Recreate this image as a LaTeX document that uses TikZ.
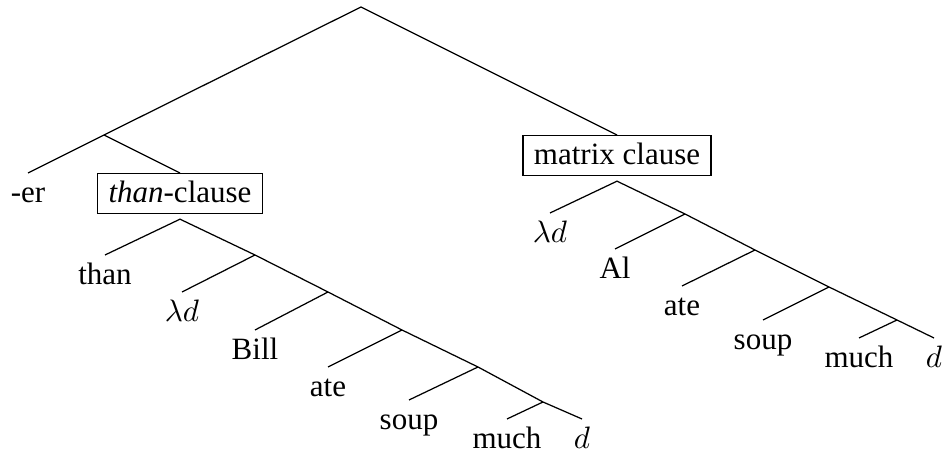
\documentclass[tikz,border=0pt]{standalone}
\usepackage{fontspec}
\setmainfont{Liberation Serif}
\usepackage{amsmath}

\begin{document}
\begin{tikzpicture}[x=0.3226pt,y=-0.3226pt,
  lab/.style={anchor=north,inner xsep=0pt,inner ysep=1.7pt,text height=7.5pt,text depth=2pt},
  cat/.style={lab,draw,inner xsep=3.5pt}]
  \useasboundingbox (0,0) rectangle (945,454);
  \coordinate (top) at (361,7);
  \coordinate (er-node) at (104,135);
  \node[lab] (er) at (28,173) {-er};
  \node[cat] (tc) at (180,173) {\textit{than}-clause};
  \node[cat] (mc) at (617,135) {matrix clause};
  \coordinate (tc-a) at ([yshift=-1.6pt]tc.south);
  \coordinate (mc-a) at ([yshift=-1.6pt]mc.south);
  % than-clause
  \node[lab] (than) at (105,255) {than};
  \coordinate (t1) at (255,255);
  \node[lab] (lam1) at (182,292) {$\lambda d$};
  \coordinate (t2) at (328,292);
  \node[lab] (bill) at (255,330) {Bill};
  \coordinate (t3) at (402,330);
  \node[lab] (ate1) at (328,367) {ate};
  \coordinate (t4) at (478,367);
  \node[lab] (soup1) at (409,400) {soup};
  \coordinate (t5) at (543,402);
  \node[lab] (much1) at (507,419) {much};
  \node[lab] (d1) at (582,419) {$d$};
  % matrix clause
  \node[lab] (lam2) at (550,213) {$\lambda d$};
  \coordinate (r1) at (685,214);
  \node[lab] (al) at (615,249) {Al};
  \coordinate (r2) at (755,250);
  \node[lab] (ate2) at (682,286) {ate};
  \coordinate (r3) at (829,287);
  \node[lab] (soup2) at (763,320) {soup};
  \coordinate (r4) at (897,320);
  \node[lab] (much2) at (859,338) {much};
  \node[lab] (d2) at (934,338) {$d$};

  \draw (er.north) -- (er-node) -- (top) -- (mc.north);
  \draw (er-node) -- (tc.north);
  \draw (than.north) -- (tc-a) -- (t1) -- (t2) -- (t3) -- (t4) -- (t5) -- (d1.north);
  \draw (t1) -- (lam1.north);
  \draw (t2) -- (bill.north);
  \draw (t3) -- (ate1.north);
  \draw (t4) -- (soup1.north);
  \draw (t5) -- (much1.north);
  \draw (lam2.north) -- (mc-a) -- (r1) -- (r2) -- (r3) -- (r4) -- (d2.north);
  \draw (r1) -- (al.north);
  \draw (r2) -- (ate2.north);
  \draw (r3) -- (soup2.north);
  \draw (r4) -- (much2.north);
\end{tikzpicture}
\end{document}
